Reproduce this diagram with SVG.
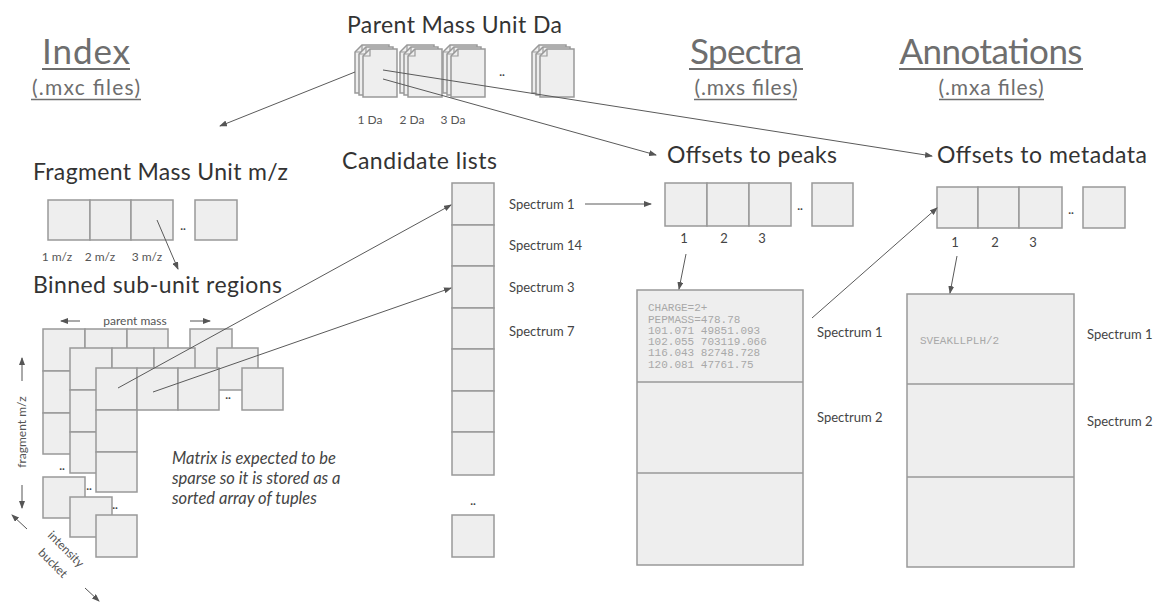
<svg xmlns="http://www.w3.org/2000/svg" xmlns:xlink="http://www.w3.org/1999/xlink" width="1158" height="603" viewBox="0 0 1158 603">
<style>
.cell{fill:#eeeeee;stroke:#999999;stroke-width:1.5}
.title{font-family:Lato,"Liberation Sans",sans-serif;fill:#6e6e6e}
.head{font-family:Lato,"Liberation Sans",sans-serif;fill:#333333;font-size:23px}
.small{font-family:Lato,"Liberation Sans",sans-serif;fill:#555555;font-size:12px}
.lab{font-family:Lato,"Liberation Sans",sans-serif;fill:#444444;font-size:13px}
.mono{font-family:"Liberation Mono","DejaVu Sans Mono",monospace;fill:#a8a8a8;font-size:11px}
.dots{font-family:Lato,"Liberation Sans",sans-serif;fill:#444;font-size:12px;font-weight:bold}
.ul{stroke:#6e6e6e;fill:none}
.con{stroke:#5a5a5a;stroke-width:1;fill:none;marker-end:url(#ah)}
.note{font-family:Lato,"Liberation Sans",sans-serif;fill:#444444;font-size:16.5px;font-style:italic}
</style>
<defs>
<marker id="ah" markerWidth="8" markerHeight="6" refX="7" refY="3" orient="auto" markerUnits="userSpaceOnUse">
<path d="M0,0 L8,3 L0,6 Z" fill="#555555"/>
</marker>
<symbol id="pg" overflow="visible">
<path d="M7,0 H34 V48 H0 V7 Z" class="cell"/>
<path d="M7,0 V7 H0" fill="none" stroke="#999999" stroke-width="1.2"/>
</symbol>
</defs>
<rect width="1158" height="603" fill="#ffffff"/>

<g id="titles">
<text class="title" x="86" y="64" font-size="35" text-anchor="middle" textLength="88">Index</text>
<line class="ul" x1="42" y1="69" x2="130" y2="69" stroke-width="2"/>
<text class="title" x="86" y="95" font-size="21" text-anchor="middle" textLength="108">(.mxc files)</text>
<line class="ul" x1="31" y1="99.5" x2="141" y2="99.5" stroke-width="1.5"/>
<text class="title" x="746" y="64" font-size="35" text-anchor="middle" textLength="112">Spectra</text>
<line class="ul" x1="689" y1="69" x2="803" y2="69" stroke-width="2"/>
<text class="title" x="746" y="95" font-size="21" text-anchor="middle" textLength="103">(.mxs files)</text>
<line class="ul" x1="694" y1="99.5" x2="797" y2="99.5" stroke-width="1.5"/>
<text class="title" x="991" y="64" font-size="35" text-anchor="middle" textLength="183">Annotations</text>
<line class="ul" x1="899" y1="69" x2="1083" y2="69" stroke-width="2"/>
<text class="title" x="991" y="95" font-size="21" text-anchor="middle" textLength="105">(.mxa files)</text>
<line class="ul" x1="939" y1="99.5" x2="1044" y2="99.5" stroke-width="1.5"/>
</g>

<g id="parent-mass">
<text class="head" x="347" y="33" textLength="215">Parent Mass Unit Da</text>
<use xlink:href="#pg" x="355" y="45"/><use xlink:href="#pg" x="359" y="47"/><use xlink:href="#pg" x="363" y="49"/>
<use xlink:href="#pg" x="400" y="45"/><use xlink:href="#pg" x="404" y="47"/><use xlink:href="#pg" x="408" y="49"/>
<use xlink:href="#pg" x="443" y="45"/><use xlink:href="#pg" x="447" y="47"/><use xlink:href="#pg" x="451" y="49"/>
<use xlink:href="#pg" x="532" y="45"/><use xlink:href="#pg" x="536" y="47"/><use xlink:href="#pg" x="540" y="49"/>
<text class="dots" x="502" y="76" text-anchor="middle">..</text>
<text class="small" x="370" y="124" text-anchor="middle">1 Da</text>
<text class="small" x="412" y="124" text-anchor="middle">2 Da</text>
<text class="small" x="453" y="124" text-anchor="middle">3 Da</text>
</g>

<g id="fragment-mass">
<text class="head" x="33" y="180" textLength="255">Fragment Mass Unit m/z</text>
<rect class="cell" x="48" y="200" width="42" height="40"/>
<rect class="cell" x="90" y="200" width="41" height="40"/>
<rect class="cell" x="131" y="200" width="42" height="40"/>
<rect class="cell" x="195" y="200" width="42" height="40"/>
<text class="dots" x="183" y="230" text-anchor="middle">..</text>
<text class="small" x="57" y="261" text-anchor="middle" font-size="11">1 m/z</text>
<text class="small" x="100" y="261" text-anchor="middle" font-size="11">2 m/z</text>
<text class="small" x="147" y="261" text-anchor="middle" font-size="11">3 m/z</text>
</g>

<g id="binned-regions">
<text class="head" x="33" y="293" textLength="249">Binned sub-unit regions</text>
<text class="small" x="135" y="325" text-anchor="middle" font-size="13">parent mass</text>
<line x1="80" y1="321" x2="61" y2="321" stroke="#555" stroke-width="1" marker-end="url(#ah)"/>
<line x1="190" y1="321" x2="210" y2="321" stroke="#555" stroke-width="1" marker-end="url(#ah)"/>
<text class="small" transform="translate(26,432) rotate(-90)" text-anchor="middle" font-size="13">fragment m/z</text>
<line x1="22" y1="381" x2="22" y2="358" stroke="#555" stroke-width="1" marker-end="url(#ah)"/>
<line x1="22" y1="485" x2="22" y2="508" stroke="#555" stroke-width="1" marker-end="url(#ah)"/>
<text class="small" transform="translate(63,552) rotate(45)" text-anchor="middle" font-size="12">intensity</text>
<text class="small" transform="translate(50,566) rotate(45)" text-anchor="middle" font-size="12">bucket</text>
<line x1="27" y1="529" x2="12" y2="515" stroke="#555" stroke-width="1" marker-end="url(#ah)"/>
<line x1="85" y1="588" x2="99" y2="601" stroke="#555" stroke-width="1" marker-end="url(#ah)"/>
<rect class="cell" x="43" y="329" width="42" height="42"/>
<rect class="cell" x="85" y="329" width="42" height="42"/>
<rect class="cell" x="127" y="329" width="41" height="42"/>
<rect class="cell" x="190" y="329" width="42" height="42"/>
<rect class="cell" x="43" y="371" width="42" height="42"/>
<rect class="cell" x="43" y="413" width="42" height="41"/>
<rect class="cell" x="43" y="477" width="42" height="41"/>
<text class="dots" x="62" y="470" text-anchor="middle">..</text>
<rect class="cell" x="70" y="348" width="42" height="42"/>
<rect class="cell" x="112" y="348" width="42" height="42"/>
<rect class="cell" x="154" y="348" width="41" height="42"/>
<rect class="cell" x="217" y="348" width="41" height="42"/>
<rect class="cell" x="70" y="390" width="42" height="42"/>
<rect class="cell" x="70" y="432" width="42" height="41"/>
<rect class="cell" x="70" y="497" width="42" height="40"/>
<text class="dots" x="89" y="490" text-anchor="middle">..</text>
<rect class="cell" x="96" y="368" width="41" height="42"/>
<rect class="cell" x="137" y="368" width="41" height="42"/>
<rect class="cell" x="178" y="368" width="41" height="42"/>
<rect class="cell" x="242" y="368" width="41" height="42"/>
<rect class="cell" x="96" y="410" width="41" height="42"/>
<rect class="cell" x="96" y="452" width="41" height="40"/>
<rect class="cell" x="96" y="515" width="41" height="42"/>
<text class="dots" x="228" y="399" text-anchor="middle">..</text>
<text class="dots" x="115" y="509" text-anchor="middle">..</text>
<text class="note" x="172" y="464">Matrix is expected to be</text>
<text class="note" x="172" y="484">sparse so it is stored as a</text>
<text class="note" x="172" y="504">sorted array of tuples</text>
</g>

<g id="candidate-lists">
<text class="head" x="342" y="169" textLength="155">Candidate lists</text>
<rect class="cell" x="452" y="183" width="42" height="42"/>
<rect class="cell" x="452" y="225" width="42" height="41"/>
<rect class="cell" x="452" y="266" width="42" height="42"/>
<rect class="cell" x="452" y="308" width="42" height="41"/>
<rect class="cell" x="452" y="349" width="42" height="42"/>
<rect class="cell" x="452" y="391" width="42" height="41"/>
<rect class="cell" x="452" y="432" width="42" height="43"/>
<text class="dots" x="473" y="505" text-anchor="middle">..</text>
<rect class="cell" x="452" y="515" width="42" height="42"/>
<text class="lab" x="509" y="209">Spectrum 1</text>
<text class="lab" x="509" y="250">Spectrum 14</text>
<text class="lab" x="509" y="292">Spectrum 3</text>
<text class="lab" x="509" y="336">Spectrum 7</text>
</g>

<g id="offsets-peaks">
<text class="head" x="667" y="163" textLength="170">Offsets to peaks</text>
<rect class="cell" x="665" y="183" width="42" height="43"/>
<rect class="cell" x="707" y="183" width="42" height="43"/>
<rect class="cell" x="749" y="183" width="42" height="43"/>
<rect class="cell" x="812" y="183" width="41" height="43"/>
<text class="dots" x="800" y="210" text-anchor="middle">..</text>
<text class="lab" x="684" y="243" text-anchor="middle">1</text>
<text class="lab" x="724" y="243" text-anchor="middle">2</text>
<text class="lab" x="762" y="243" text-anchor="middle">3</text>
</g>

<g id="spectra-store">
<rect class="cell" x="637" y="290" width="166" height="275"/>
<line x1="637" y1="382" x2="803" y2="382" stroke="#999" stroke-width="1.5"/>
<line x1="637" y1="473" x2="803" y2="473" stroke="#999" stroke-width="1.5"/>
<text class="mono" x="648" y="311">CHARGE=2+</text>
<text class="mono" x="648" y="323">PEPMASS=478.78</text>
<text class="mono" x="648" y="334">101.071 49851.093</text>
<text class="mono" x="648" y="345">102.055 703119.066</text>
<text class="mono" x="648" y="356">116.043 82748.728</text>
<text class="mono" x="648" y="368">120.081 47761.75</text>
<text class="lab" x="817" y="337">Spectrum 1</text>
<text class="lab" x="817" y="422">Spectrum 2</text>
</g>

<g id="offsets-metadata">
<text class="head" x="937" y="163" textLength="210">Offsets to metadata</text>
<rect class="cell" x="937" y="187" width="41" height="41"/>
<rect class="cell" x="978" y="187" width="41" height="41"/>
<rect class="cell" x="1019" y="187" width="43" height="41"/>
<rect class="cell" x="1083" y="187" width="42" height="41"/>
<text class="dots" x="1071" y="214" text-anchor="middle">..</text>
<text class="lab" x="955" y="247" text-anchor="middle">1</text>
<text class="lab" x="995" y="247" text-anchor="middle">2</text>
<text class="lab" x="1033" y="247" text-anchor="middle">3</text>
</g>

<g id="annotations-store">
<rect class="cell" x="907" y="294" width="167" height="273"/>
<line x1="907" y1="384" x2="1074" y2="384" stroke="#999" stroke-width="1.5"/>
<line x1="907" y1="477" x2="1074" y2="477" stroke="#999" stroke-width="1.5"/>
<text class="mono" x="920" y="344">SVEAKLLPLH/2</text>
<text class="lab" x="1087" y="339">Spectrum 1</text>
<text class="lab" x="1087" y="426">Spectrum 2</text>
</g>

<g id="connectors">
<line class="con" x1="355" y1="72" x2="220" y2="126"/>
<line class="con" x1="383" y1="79" x2="656" y2="155"/>
<line class="con" x1="383" y1="70" x2="932" y2="156"/>
<line class="con" x1="157" y1="220" x2="178" y2="269"/>
<line class="con" x1="118" y1="388" x2="451" y2="205"/>
<line class="con" x1="153" y1="392" x2="451" y2="288"/>
<line class="con" x1="585" y1="204" x2="651" y2="204"/>
<line class="con" x1="686" y1="254" x2="679" y2="289"/>
<line class="con" x1="812" y1="318" x2="937" y2="208"/>
<line class="con" x1="957" y1="256" x2="950" y2="293"/>
</g>
</svg>
